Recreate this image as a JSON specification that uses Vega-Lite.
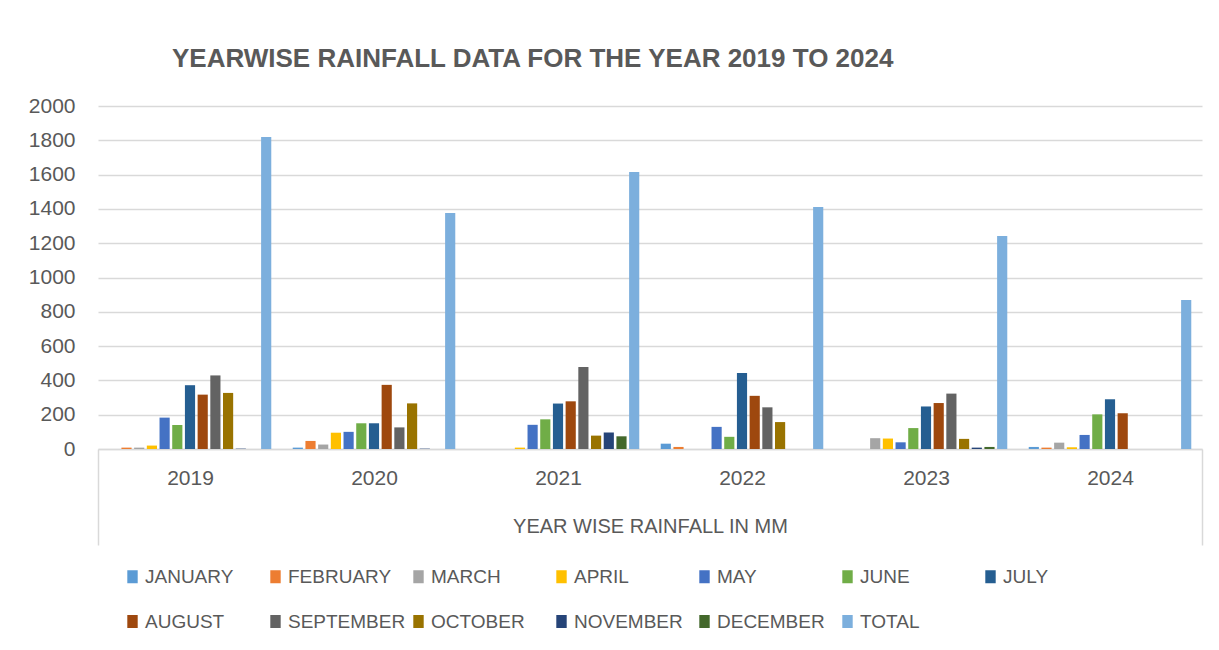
{
  "$schema": "https://vega.github.io/schema/vega-lite/v6.json",
  "width": 1104,
  "height": 343,
  "autosize": {"type": "none"},
  "padding": {"left": 98, "top": 106, "right": 17, "bottom": 201},
  "background": "white",
  "title": {
    "text": "YEARWISE RAINFALL DATA FOR THE YEAR 2019 TO 2024",
    "anchor": "start",
    "frame": "group",
    "dx": 74,
    "offset": 2,
    "baseline": "alphabetic",
    "font": "Liberation Sans",
    "fontSize": 26,
    "fontWeight": "bold",
    "color": "#595959"
  },
  "data": {
    "values": [
      {"year": "2019", "month": "JANUARY", "value": 0},
      {"year": "2019", "month": "FEBRUARY", "value": 8},
      {"year": "2019", "month": "MARCH", "value": 8},
      {"year": "2019", "month": "APRIL", "value": 20},
      {"year": "2019", "month": "MAY", "value": 183},
      {"year": "2019", "month": "JUNE", "value": 140},
      {"year": "2019", "month": "JULY", "value": 372},
      {"year": "2019", "month": "AUGUST", "value": 317},
      {"year": "2019", "month": "SEPTEMBER", "value": 429},
      {"year": "2019", "month": "OCTOBER", "value": 327},
      {"year": "2019", "month": "NOVEMBER", "value": 2},
      {"year": "2019", "month": "DECEMBER", "value": 0},
      {"year": "2019", "month": "TOTAL", "value": 1819},
      {"year": "2020", "month": "JANUARY", "value": 8},
      {"year": "2020", "month": "FEBRUARY", "value": 47},
      {"year": "2020", "month": "MARCH", "value": 26},
      {"year": "2020", "month": "APRIL", "value": 95},
      {"year": "2020", "month": "MAY", "value": 100},
      {"year": "2020", "month": "JUNE", "value": 150},
      {"year": "2020", "month": "JULY", "value": 150},
      {"year": "2020", "month": "AUGUST", "value": 374},
      {"year": "2020", "month": "SEPTEMBER", "value": 126},
      {"year": "2020", "month": "OCTOBER", "value": 266},
      {"year": "2020", "month": "NOVEMBER", "value": 2},
      {"year": "2020", "month": "DECEMBER", "value": 0},
      {"year": "2020", "month": "TOTAL", "value": 1376},
      {"year": "2021", "month": "JANUARY", "value": 0},
      {"year": "2021", "month": "FEBRUARY", "value": 0},
      {"year": "2021", "month": "MARCH", "value": 0},
      {"year": "2021", "month": "APRIL", "value": 8},
      {"year": "2021", "month": "MAY", "value": 141},
      {"year": "2021", "month": "JUNE", "value": 173},
      {"year": "2021", "month": "JULY", "value": 265},
      {"year": "2021", "month": "AUGUST", "value": 278},
      {"year": "2021", "month": "SEPTEMBER", "value": 478},
      {"year": "2021", "month": "OCTOBER", "value": 78},
      {"year": "2021", "month": "NOVEMBER", "value": 96},
      {"year": "2021", "month": "DECEMBER", "value": 74},
      {"year": "2021", "month": "TOTAL", "value": 1615},
      {"year": "2022", "month": "JANUARY", "value": 31},
      {"year": "2022", "month": "FEBRUARY", "value": 12},
      {"year": "2022", "month": "MARCH", "value": 0},
      {"year": "2022", "month": "APRIL", "value": 0},
      {"year": "2022", "month": "MAY", "value": 129},
      {"year": "2022", "month": "JUNE", "value": 71},
      {"year": "2022", "month": "JULY", "value": 443},
      {"year": "2022", "month": "AUGUST", "value": 310},
      {"year": "2022", "month": "SEPTEMBER", "value": 243},
      {"year": "2022", "month": "OCTOBER", "value": 157},
      {"year": "2022", "month": "NOVEMBER", "value": 0},
      {"year": "2022", "month": "DECEMBER", "value": 0},
      {"year": "2022", "month": "TOTAL", "value": 1411},
      {"year": "2023", "month": "JANUARY", "value": 0},
      {"year": "2023", "month": "FEBRUARY", "value": 0},
      {"year": "2023", "month": "MARCH", "value": 63},
      {"year": "2023", "month": "APRIL", "value": 61},
      {"year": "2023", "month": "MAY", "value": 39},
      {"year": "2023", "month": "JUNE", "value": 122},
      {"year": "2023", "month": "JULY", "value": 248},
      {"year": "2023", "month": "AUGUST", "value": 268},
      {"year": "2023", "month": "SEPTEMBER", "value": 323},
      {"year": "2023", "month": "OCTOBER", "value": 59},
      {"year": "2023", "month": "NOVEMBER", "value": 8},
      {"year": "2023", "month": "DECEMBER", "value": 12},
      {"year": "2023", "month": "TOTAL", "value": 1242},
      {"year": "2024", "month": "JANUARY", "value": 12},
      {"year": "2024", "month": "FEBRUARY", "value": 8},
      {"year": "2024", "month": "MARCH", "value": 37},
      {"year": "2024", "month": "APRIL", "value": 10},
      {"year": "2024", "month": "MAY", "value": 82},
      {"year": "2024", "month": "JUNE", "value": 202},
      {"year": "2024", "month": "JULY", "value": 290},
      {"year": "2024", "month": "AUGUST", "value": 208},
      {"year": "2024", "month": "SEPTEMBER", "value": 0},
      {"year": "2024", "month": "OCTOBER", "value": 0},
      {"year": "2024", "month": "NOVEMBER", "value": 0},
      {"year": "2024", "month": "DECEMBER", "value": 0},
      {"year": "2024", "month": "TOTAL", "value": 869}
    ]
  },
  "mark": {"type": "bar"},
  "encoding": {
    "x": {
      "field": "year",
      "type": "nominal",
      "scale": {"paddingInner": 0, "paddingOuter": 0},
      "axis": {
        "title": "YEAR WISE RAINFALL IN MM",
        "titleFont": "Liberation Sans",
        "titleFontSize": 20,
        "titleFontWeight": "normal",
        "titleColor": "#595959",
        "titleBaseline": "alphabetic",
        "titleY": 83,
        "labelAngle": 0,
        "labelFont": "Liberation Sans",
        "labelFontSize": 21,
        "labelColor": "#595959",
        "labelPadding": -78,
        "domainColor": "#d9d9d9",
        "domainWidth": 1.5,
        "ticks": true,
        "tickBand": "extent",
        "tickSize": 96,
        "tickWidth": 1.5,
        "tickColor": "#d9d9d9",
        "tickOpacity": {"condition": {"test": "datum.value == '2024' || datum.index < 0", "value": 1}, "value": 0}
      }
    },
    "xOffset": {
      "field": "month",
      "type": "nominal",
      "sort": ["JANUARY", "FEBRUARY", "MARCH", "APRIL", "MAY", "JUNE", "JULY", "AUGUST", "SEPTEMBER", "OCTOBER", "NOVEMBER", "DECEMBER", "TOTAL"],
      "scale": {"paddingInner": 0.2, "paddingOuter": 0.845}
    },
    "y": {
      "field": "value",
      "type": "quantitative",
      "scale": {"domain": [0, 2000]},
      "axis": {
        "title": null,
        "values": [0, 200, 400, 600, 800, 1000, 1200, 1400, 1600, 1800, 2000],
        "format": "d",
        "labelFont": "Liberation Sans",
        "labelFontSize": 21,
        "labelColor": "#595959",
        "labelPadding": 23,
        "ticks": false,
        "domain": false,
        "gridColor": "#d9d9d9",
        "gridWidth": 1.5
      }
    },
    "color": {
      "field": "month",
      "type": "nominal",
      "sort": ["JANUARY", "FEBRUARY", "MARCH", "APRIL", "MAY", "JUNE", "JULY", "AUGUST", "SEPTEMBER", "OCTOBER", "NOVEMBER", "DECEMBER", "TOTAL"],
      "scale": {
        "domain": ["JANUARY", "FEBRUARY", "MARCH", "APRIL", "MAY", "JUNE", "JULY", "AUGUST", "SEPTEMBER", "OCTOBER", "NOVEMBER", "DECEMBER", "TOTAL"],
        "range": ["#5B9BD5", "#ED7D31", "#A5A5A5", "#FFC000", "#4472C4", "#70AD47", "#255E91", "#9E480E", "#636363", "#997300", "#264478", "#43682B", "#7CAFDD"]
      },
      "legend": {
        "title": null,
        "orient": "none",
        "legendX": 25,
        "legendY": 461,
        "direction": "horizontal",
        "columns": 7,
        "gridAlign": "all",
        "columnPadding": 3,
        "rowPadding": 25,
        "padding": 0,
        "symbolType": "M-0.8,-1H0.8V1H-0.8Z",
        "symbolSize": 169,
        "symbolStrokeWidth": 0,
        "labelOffset": 3,
        "labelFont": "Liberation Sans",
        "labelFontSize": 19,
        "labelColor": "#595959",
        "labelLimit": 200
      }
    }
  },
  "config": {
    "view": {"stroke": null}
  }
}
